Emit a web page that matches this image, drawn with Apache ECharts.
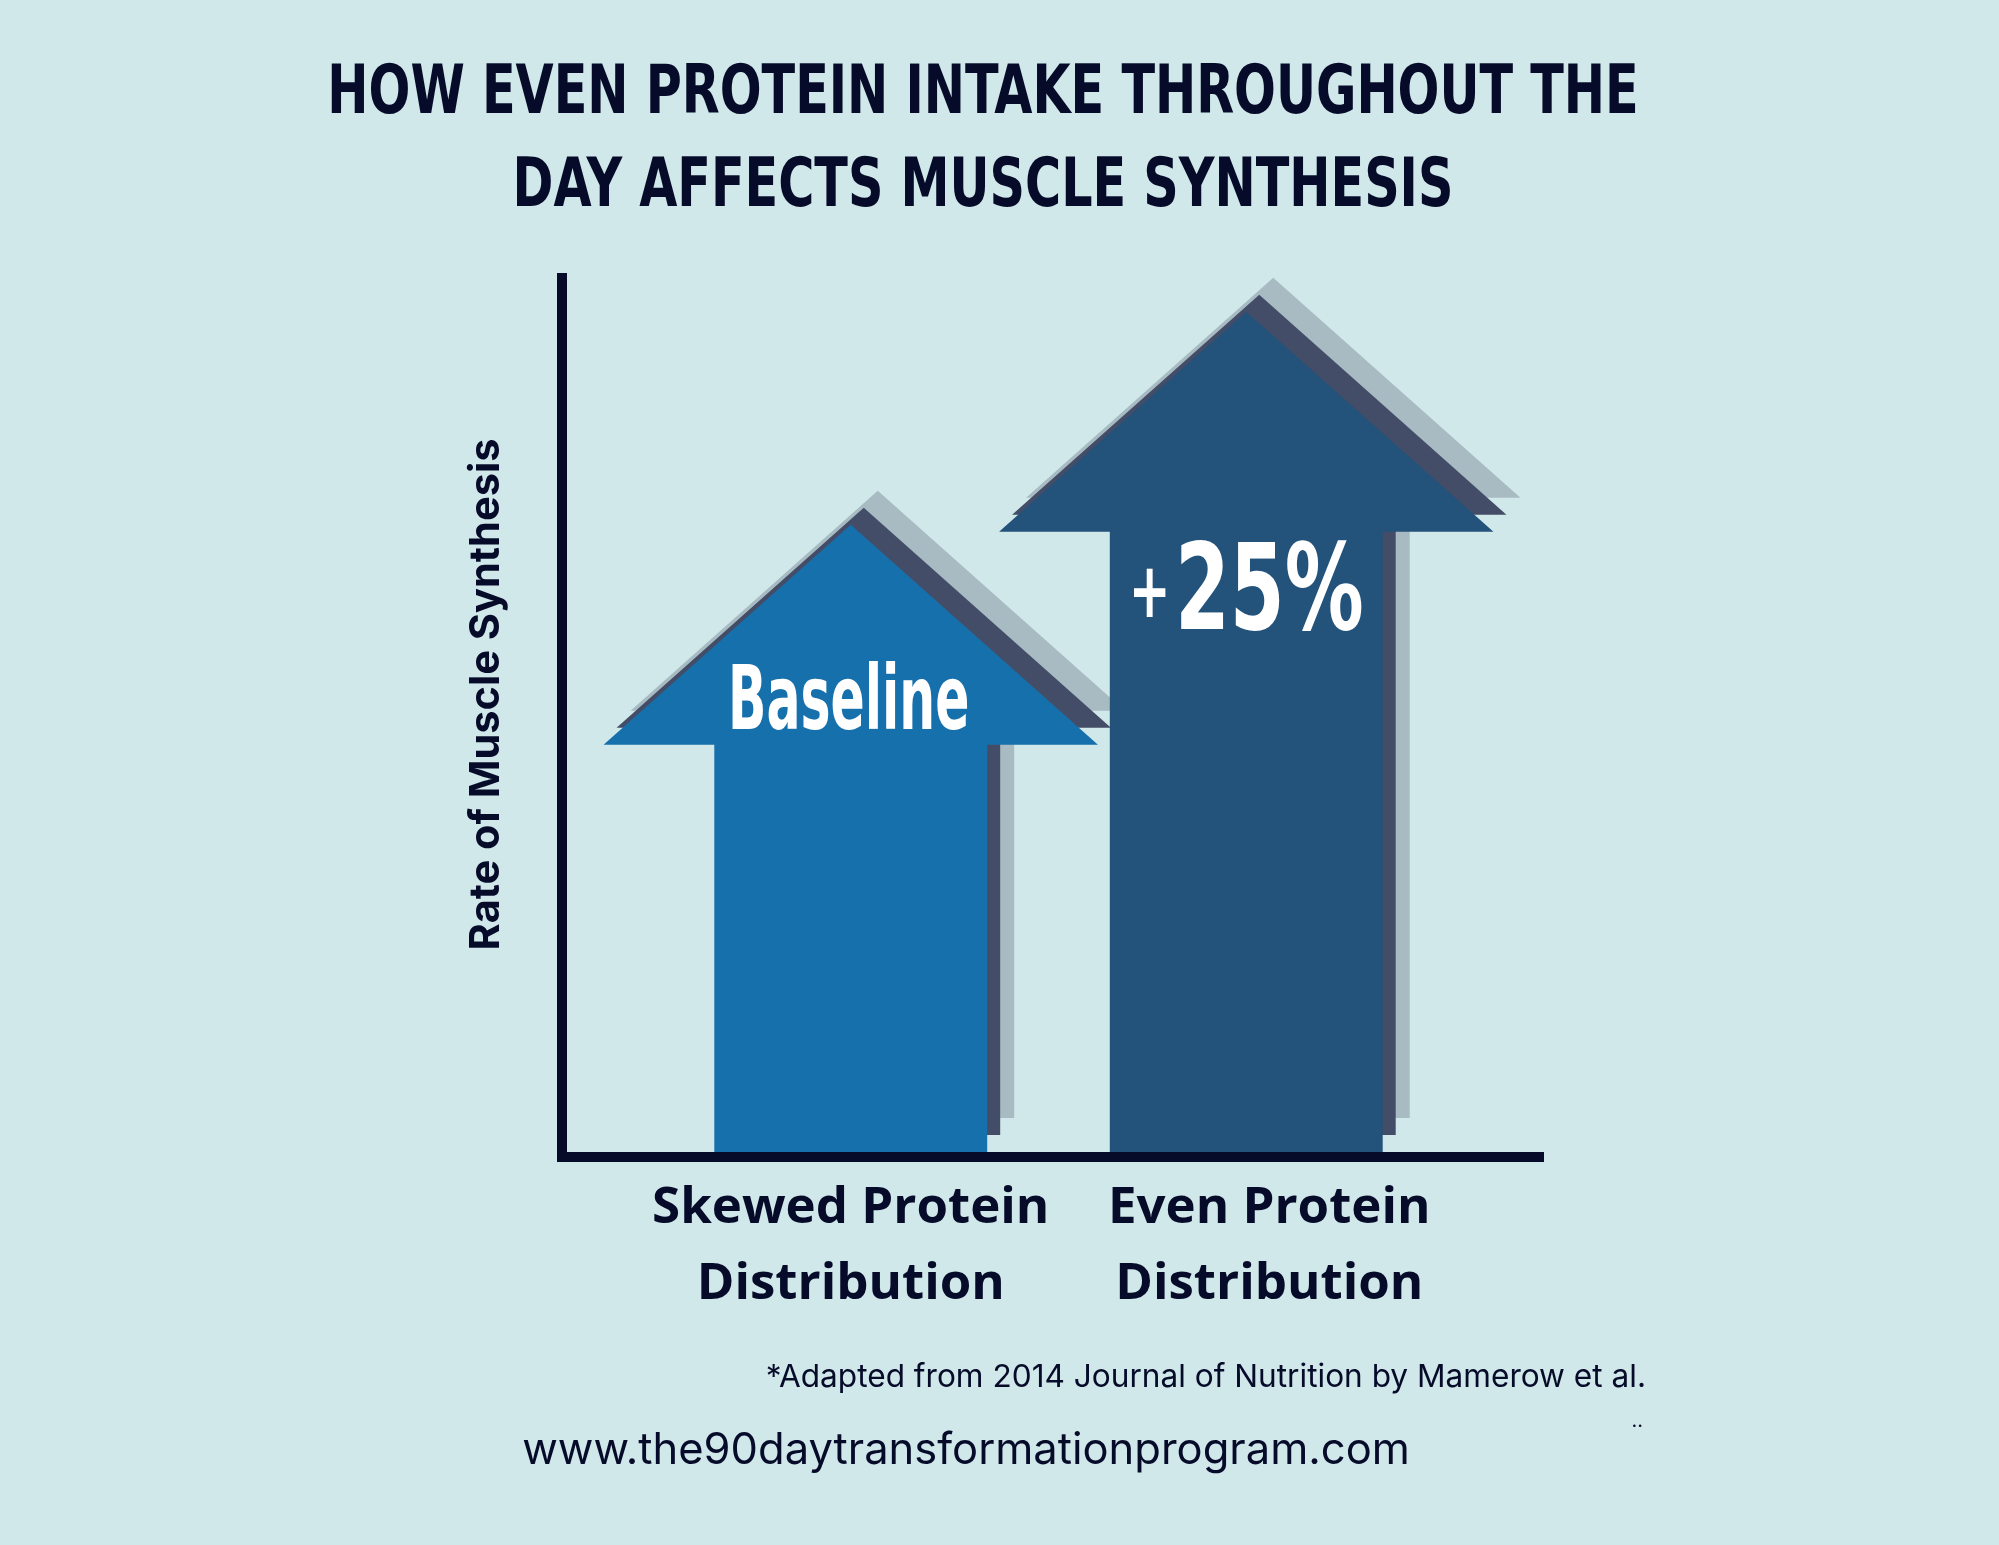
<!DOCTYPE html>
<html>
<head>
<meta charset="utf-8">
<title>Even protein intake and muscle synthesis</title>
<script src="https://cdn.jsdelivr.net/npm/echarts@6/dist/echarts.min.js"></script>
<style>
  html, body { margin: 0; padding: 0; background: #d0e8e9; }
  #chart { width: 1999px; height: 1545px; }
</style>
</head>
<body>
<div id="chart"></div>
<script>
// bottom categories
const categories = ['Skewed Protein\nDistribution', 'Even Protein\nDistribution'];
// arrow heights (skewed = baseline 100)
const synthesisRate = [100, 134];
// text printed on each arrow
const arrowLabels = ['Baseline', '+25%'];
const titleLines = ['HOW EVEN PROTEIN INTAKE THROUGHOUT THE', 'DAY AFFECTS MUSCLE SYNTHESIS'];
const yMax = 140;

const NAVY = '#060b2a';
const arrowColors = ['#1670ab', '#23527a'];
// stacked drop shadows behind each arrow: dx, dy, colour
const shadows = [[27, -34, '#a8bbc3'], [13, -17, '#434d68']];
const NARROW = '"Liberation Sans Narrow", "DejaVu Sans Condensed", sans-serif';

const chart = echarts.init(document.getElementById('chart'));

function arrowPoints(cx, baseY, tipY, shaftW, headW, headH, dx, dy) {
  const hb = tipY + headH;
  return [
    [cx - shaftW / 2 + dx, baseY + dy],
    [cx - shaftW / 2 + dx, hb + dy],
    [cx - headW / 2 + dx, hb + dy],
    [cx + dx, tipY + dy],
    [cx + headW / 2 + dx, hb + dy],
    [cx + shaftW / 2 + dx, hb + dy],
    [cx + shaftW / 2 + dx, baseY + dy]
  ];
}

function renderArrow(params, api) {
  const idx = api.value(0);
  const base = api.coord([idx, 0]);
  const tip = api.coord([idx, api.value(1)]);
  const band = api.size([1, 0])[0];
  const shaftW = band * 0.69;
  const headW = band * 1.25;
  const headH = 220;
  const cx = base[0];

  const children = shadows.map(s => ({
    type: 'polygon',
    shape: { points: arrowPoints(cx, base[1], tip[1], shaftW, headW, headH, s[0], s[1]) },
    style: { fill: s[2] }
  }));
  children.push({
    type: 'polygon',
    shape: { points: arrowPoints(cx, base[1], tip[1], shaftW, headW, headH, 0, 0) },
    style: { fill: arrowColors[idx] }
  });

  // Baseline sits in the head, +25% at the top of the shaft
  const headBase = tip[1] + headH;
  const textStyle = {
    fill: '#fff',
    fontFamily: NARROW,
    fontWeight: 'bold',
    align: 'center',
    verticalAlign: 'middle'
  };
  if (idx === 0) {
    children.push({
      type: 'text', x: cx - 2, y: headBase - 39, scaleX: 0.63,
      style: Object.assign({ text: arrowLabels[idx], fontSize: 89 }, textStyle)
    });
  } else {
    const parts = arrowLabels[idx].match(/^([+-]?)(.*)$/);
    children.push({
      type: 'text', x: cx, y: headBase + 66, scaleX: 0.73,
      style: Object.assign({
        text: '{p|' + parts[1] + '}{n|' + parts[2] + '}',
        rich: {
          p: { fontSize: 76, fill: '#fff', fontWeight: 'bold', fontFamily: NARROW, padding: [0, 6, 0, 0] },
          n: { fontSize: 120, fill: '#fff', fontWeight: 'bold', fontFamily: NARROW }
        }
      }, textStyle)
    });
  }
  return { type: 'group', children: children };
}

const option = {
  backgroundColor: '#d0e8e9',
  graphic: titleLines.map((line, i) => ({
    type: 'text',
    x: 983,
    y: 96 + i * 93,
    scaleX: 0.817,
    style: {
      text: line,
      fill: NAVY,
      fontFamily: NARROW,
      fontWeight: 'bold',
      fontSize: 67,
      align: 'center',
      verticalAlign: 'middle',
      textAlign: 'center',
      textVerticalAlign: 'middle'
    }
  })),
  title: [
    {
      text: '*Adapted from 2014 Journal of Nutrition by Mamerow et al.',
      right: 348,
      top: 1356,
      textStyle: { color: NAVY, fontFamily: 'Inter, sans-serif', fontWeight: 'normal', fontSize: 31.6 }
    },
    {
      text: '..',
      right: 351,
      top: 1406,
      textStyle: { color: NAVY, fontFamily: 'Inter, sans-serif', fontWeight: 'normal', fontSize: 20 }
    },
    {
      text: 'www.the90daytransformationprogram.com',
      left: 961,
      top: 1424,
      textAlign: 'center',
      textStyle: { color: NAVY, fontFamily: 'Inter, sans-serif', fontWeight: 'normal', fontSize: 43.5 }
    }
  ],
  grid: [
    { left: 562, top: 278, width: 977, height: 879 },
    { left: 653, top: 274, width: 791, height: 878 }
  ],
  xAxis: [
    {
      gridIndex: 0, type: 'value', min: 0, max: 1,
      axisLine: { show: true, onZero: false, lineStyle: { color: NAVY, width: 10, cap: 'square' } },
      axisTick: { show: false }, axisLabel: { show: false }, splitLine: { show: false }
    },
    {
      gridIndex: 1, type: 'category', data: categories,
      axisLine: { show: false }, axisTick: { show: false }, splitLine: { show: false },
      axisLabel: {
        interval: 0,
        color: NAVY, fontFamily: '"Open Sans", sans-serif', fontWeight: 'bold',
        fontSize: 51, lineHeight: 76, margin: 18,
        // the second label sits a little right of its arrow
        formatter: (v, i) => v.split('\n').map(l => '{' + (i === 1 ? 'e' : 's') + '|' + l + '}').join('\n'),
        rich: {
          s: { color: NAVY, fontFamily: '"Open Sans", sans-serif', fontWeight: 'bold', fontSize: 51, lineHeight: 76 },
          e: { color: NAVY, fontFamily: '"Open Sans", sans-serif', fontWeight: 'bold', fontSize: 51, lineHeight: 76, padding: [0, 0, 0, 46] }
        }
      }
    }
  ],
  yAxis: [
    {
      gridIndex: 0, type: 'value', min: 0, max: 1,
      name: 'Rate of Muscle Synthesis',
      nameLocation: 'middle', nameGap: 54, nameRotate: 90,
      nameTextStyle: { color: NAVY, fontFamily: 'Inter, sans-serif', fontWeight: 'bold', fontSize: 41.5, padding: [0, 0, 0, 46] },
      axisLine: { show: true, onZero: false, lineStyle: { color: NAVY, width: 10, cap: 'square' } },
      axisTick: { show: false }, axisLabel: { show: false }, splitLine: { show: false }
    },
    {
      gridIndex: 1, type: 'value', min: 0, max: yMax, show: false, splitLine: { show: false }
    }
  ],
  series: [
    {
      type: 'custom',
      xAxisIndex: 1,
      yAxisIndex: 1,
      renderItem: renderArrow,
      data: categories.map((c, i) => [i, synthesisRate[i]]),
      silent: true
    }
  ]
};

chart.setOption(option);
</script>
</body>
</html>
